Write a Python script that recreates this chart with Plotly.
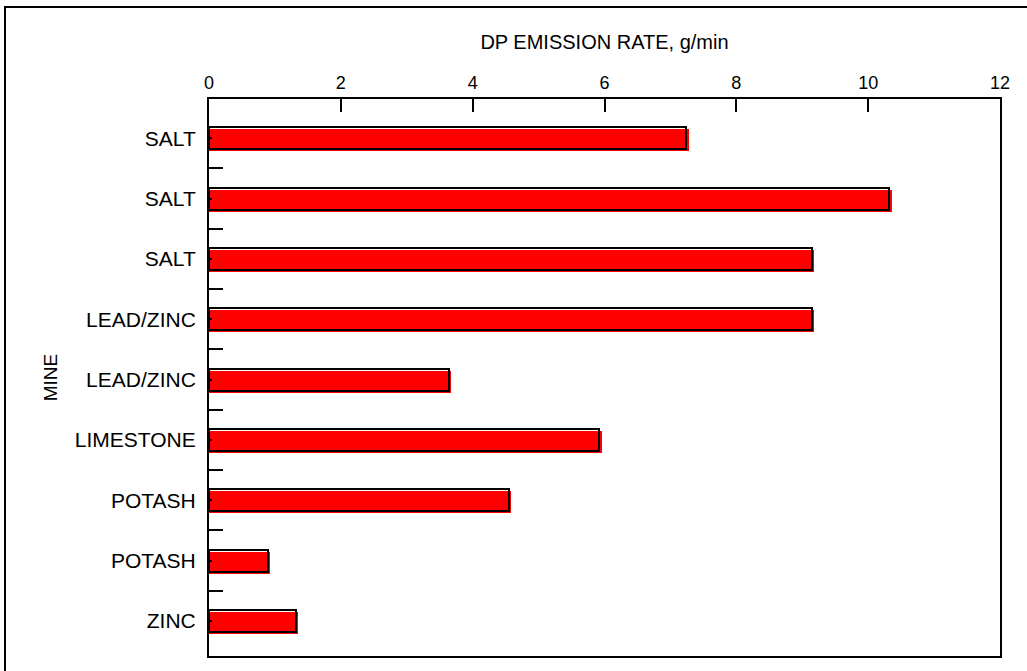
import plotly.graph_objects as go

# ---- data ----
mines = ["SALT", "SALT", "SALT", "LEAD/ZINC", "LEAD/ZINC",
         "LIMESTONE", "POTASH", "POTASH", "ZINC"]
dp_rate = [7.24, 10.32, 9.15, 9.15, 3.64, 5.92, 4.55, 0.89, 1.32]
x_ticks = [0, 2, 4, 6, 8, 10, 12]

# ---- geometry / style ----
W, H = 1027, 671
L, R, T, B = 209, 27, 99, 15
plot_w = W - L - R
plot_h = H - T - B
x_range = [0, 12]
y_range = [8.58, -0.65]          # reversed: first mine at top
px_per_x = plot_w / (x_range[1] - x_range[0])
px_per_y = plot_h / (y_range[0] - y_range[1])
bar_w = 22 / px_per_y
shadow_dx = 2.3 / px_per_x
shadow_dy = 2.0 / px_per_y

idx = list(range(len(mines)))
font_family = "Liberation Sans, Arial, sans-serif"

# outer frame (left/top edges visible, right/bottom run off the page)
frame_left_px, frame_top_px = 5, 7

fig = go.Figure()
# red fill, shifted slightly right/down (shadow look of the original)
fig.add_trace(go.Bar(
    y=idx, x=[v + shadow_dx for v in dp_rate], orientation="h",
    width=bar_w, offset=-bar_w / 2 + shadow_dy,
    marker=dict(color="#ff0000", line=dict(width=0)),
    hoverinfo="skip", showlegend=False))
# black outline
fig.add_trace(go.Bar(
    y=idx, x=dp_rate, orientation="h",
    width=bar_w, offset=-bar_w / 2,
    marker=dict(color="rgba(0,0,0,0)", line=dict(color="black", width=2)),
    showlegend=False))

fig.update_layout(
    width=W, height=H,
    margin=dict(l=L, r=R, t=T, b=B, pad=0),
    paper_bgcolor="white", plot_bgcolor="white",
    barmode="overlay", bargap=0,
    font=dict(family=font_family, color="black"),
    xaxis=dict(
        side="top", range=x_range, tickvals=x_ticks,
        ticks="inside", ticklen=13, tickwidth=2, tickcolor="black",
        showline=True, linecolor="black", linewidth=2, mirror=True,
        showgrid=False, zeroline=False,
        tickfont=dict(size=18), ticklabelstandoff=1,
        title=dict(text="DP EMISSION RATE, g/min", font=dict(size=20), standoff=18),
    ),
    yaxis=dict(
        range=y_range, tickmode="array", tickvals=idx, ticktext=mines,
        ticks="inside", ticklen=3, tickwidth=2, tickcolor="black",
        minor=dict(tickmode="array", tickvals=[i + 0.5 for i in idx[:-1]],
                   ticks="inside", ticklen=14, tickwidth=2, tickcolor="black"),
        showline=True, linecolor="black", linewidth=2, mirror=True,
        showgrid=False, zeroline=False,
        tickfont=dict(size=21), ticklabelstandoff=7,
        title=dict(text="MINE", font=dict(size=19), standoff=12),
    ),
    shapes=[dict(type="rect", xref="paper", yref="paper",
                 x0=(frame_left_px - L) / plot_w, x1=(W + 40 - L) / plot_w,
                 y0=-(B + 40) / plot_h, y1=(H - B - frame_top_px) / plot_h,
                 line=dict(color="black", width=2), layer="below")],
)

fig.write_html("out.html")
